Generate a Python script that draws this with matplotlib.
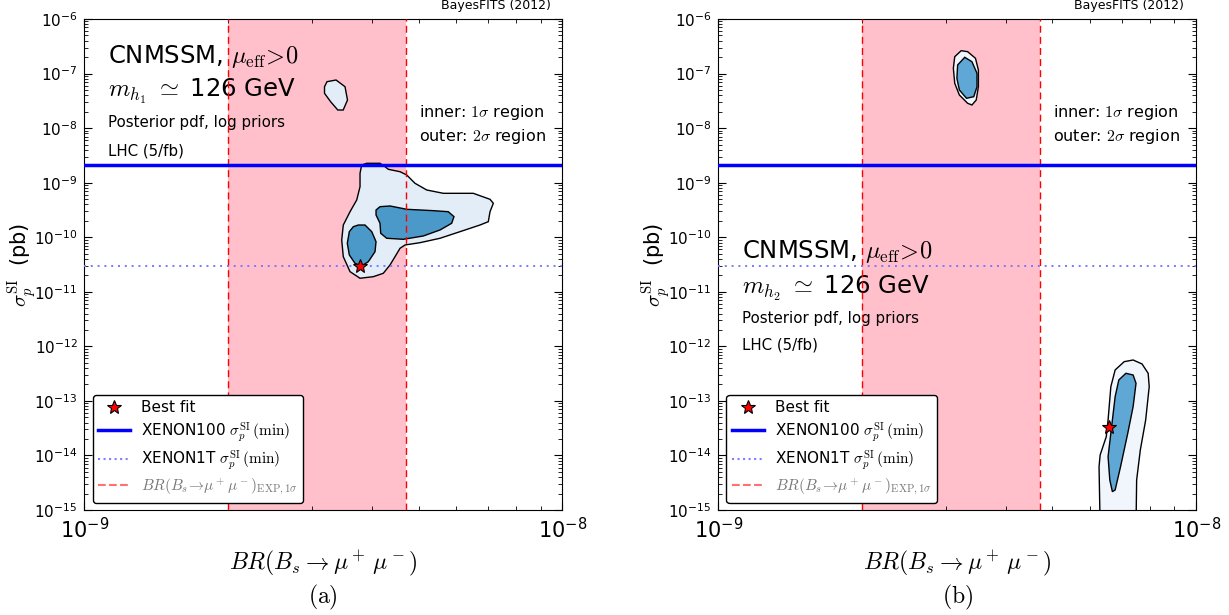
import matplotlib
matplotlib.use("Agg")
import matplotlib.pyplot as plt
from matplotlib.lines import Line2D
from matplotlib.ticker import LogLocator, NullFormatter
import numpy as np

plt.rcParams["mathtext.fontset"] = "cm"
plt.rcParams["font.family"] = "DejaVu Sans"

# experimental 1 sigma range of BR(Bs -> mu mu) and direct detection limits
br_band = [2.0e-9, 4.7e-9]
xenon100_limit = 2.15e-9
xenon1t_limit = 3.0e-11

# best fit points (BR, sigma_p^SI)
best_fit_a = [3.77e-9, 3.0e-11]
best_fit_b = [6.57e-9, 3.3e-14]

# credible region contours as log10(BR), log10(sigma)
# panel (a): 2 sigma, main island
a_outer1_lbr = [-8.4199, -8.4094, -8.3816, -8.3711, -8.3642, -8.3397, -8.3257,
                -8.3084, -8.2839, -8.2491, -8.1864, -8.1514, -8.1445, -8.1514,
                -8.1550, -8.1724, -8.2142, -8.2560, -8.2979, -8.3293, -8.3397,
                -8.3502, -8.3607, -8.3747, -8.3956, -8.4234, -8.4443, -8.4584,
                -8.4617, -8.4584, -8.4443, -8.4303, -8.4234, -8.4234]
a_outer1_lsig = [-8.676, -8.645, -8.645, -8.707, -8.755, -8.799, -8.859,
                 -9.011, -9.134, -9.195, -9.195, -9.305, -9.378, -9.532,
                 -9.715, -9.776, -9.898, -10.019, -10.100, -10.142, -10.203,
                 -10.357, -10.509, -10.661, -10.723, -10.752, -10.631, -10.357,
                 -10.051, -9.776, -9.532, -9.317, -9.074, -8.828]
# panel (a): 2 sigma, small island at large sigma
a_outer2_lbr = [-8.4925, -8.4736, -8.4548, -8.4496, -8.4586, -8.4699, -8.4849,
                -8.4977, -8.4977]
a_outer2_lsig = [-7.149, -7.118, -7.241, -7.485, -7.668, -7.668, -7.516,
                 -7.362, -7.241]
# panel (a): 1 sigma islands
a_inner1_lbr = [-8.4270, -8.4130, -8.3989, -8.3899, -8.3920, -8.4060, -8.4199,
                -8.4339, -8.4458, -8.4500, -8.4458, -8.4374]
a_inner1_lsig = [-9.776, -9.776, -9.898, -10.082, -10.265, -10.448, -10.527,
                 -10.478, -10.325, -10.111, -9.898, -9.807]
a_inner2_lbr = [-8.3816, -8.3607, -8.3257, -8.2701, -8.2387, -8.2268, -8.2316,
                -8.2560, -8.2910, -8.3328, -8.3676, -8.3801, -8.3816, -8.3899,
                -8.3899]
a_inner2_lsig = [-9.440, -9.427, -9.488, -9.513, -9.532, -9.623, -9.744,
                 -9.867, -9.977, -10.038, -10.019, -9.928, -9.744, -9.592,
                 -9.501]

# panel (b): island at large sigma
b_outer1_lbr = [-8.4918, -8.4783, -8.4619, -8.4558, -8.4558, -8.4603, -8.4693,
                -8.4783, -8.4956, -8.5053, -8.5082, -8.5053]
b_outer1_lsig = [-6.581, -6.599, -6.720, -6.935, -7.241, -7.485, -7.576,
                 -7.545, -7.393, -7.178, -6.904, -6.691]
b_inner1_lbr = [-8.4844, -8.4693, -8.4587, -8.4587, -8.4655, -8.4806, -8.4956,
                -8.5008, -8.4992]
b_inner1_lsig = [-6.702, -6.783, -6.995, -7.241, -7.424, -7.453, -7.301,
                 -7.087, -6.843]
# panel (b): island at small sigma (runs below the axis)
b_outer2_lbr = [-8.2010, -8.2033, -8.2010, -8.1882, -8.1844, -8.1786, -8.1696,
                -8.1507, -8.1320, -8.1133, -8.1005, -8.0983, -8.1057, -8.1169,
                -8.1246, -8.1259]
b_outer2_lsig = [-15.3, -14.206, -13.991, -13.656, -13.350, -12.739, -12.433,
                 -12.281, -12.250, -12.323, -12.494, -12.739, -13.350, -13.899,
                 -14.449, -15.3]
b_inner2_lbr = [-8.1619, -8.1471, -8.1320, -8.1259, -8.1320, -8.1432, -8.1583,
                -8.1696, -8.1754, -8.1808, -8.1844, -8.1770, -8.1696]
b_inner2_lsig = [-12.616, -12.494, -12.525, -12.677, -13.106, -13.593, -14.206,
                 -14.632, -14.664, -14.449, -14.022, -13.473, -12.922]

panel_names = ["(a)", "(b)"]
higgs_labels = [r"$m_{h_1}\ \simeq$ 126 GeV", r"$m_{h_2}\ \simeq$ 126 GeV"]


def draw_panel(ax, outers, inners, best, outer_col, inner_col):
    ax.set_xscale("log")
    ax.set_yscale("log")
    ax.axvspan(br_band[0], br_band[1], color="#ffc0cb", lw=0, zorder=0)
    for lbr, lsig in outers:
        ax.fill(10 ** np.array(lbr), 10 ** np.array(lsig), facecolor=outer_col,
                edgecolor="black", lw=1, zorder=2)
    for lbr, lsig in inners:
        ax.fill(10 ** np.array(lbr), 10 ** np.array(lsig), facecolor=inner_col,
                edgecolor="black", lw=1, zorder=3)
    for b in br_band:
        ax.axvline(b, color="red", ls=(0, (5, 3)), lw=1, zorder=4)
    ax.axhline(xenon100_limit, color="blue", lw=2.5, zorder=4)
    ax.axhline(xenon1t_limit, color="#7878ff", ls=(0, (1, 2.5)), lw=1.4, zorder=4)
    ax.plot(best[0], best[1], ls="none", marker="*", ms=10, mfc="red",
            mec="black", mew=0.8, zorder=6, clip_on=False)

    ax.set_xlim(1e-9, 1e-8)
    ax.set_ylim(1e-15, 1e-6)
    ax.xaxis.set_major_locator(LogLocator(base=10, numticks=20))
    ax.xaxis.set_minor_locator(LogLocator(base=10, subs=np.arange(2, 10), numticks=100))
    ax.xaxis.set_minor_formatter(NullFormatter())
    ax.yaxis.set_major_locator(LogLocator(base=10, numticks=20))
    ax.yaxis.set_minor_locator(LogLocator(base=10, subs=np.arange(2, 10), numticks=100))
    ax.yaxis.set_minor_formatter(NullFormatter())
    ax.tick_params(which="both", direction="in", top=True, right=True)
    ax.tick_params(which="major", length=6)
    ax.tick_params(which="minor", length=3)
    ax.tick_params(axis="x", labelsize=15, pad=5)
    ax.tick_params(axis="y", labelsize=11, pad=5)

    ax.set_xlabel(r"$BR(B_s\rightarrow\mu^+\,\mu^-)$", fontsize=17)
    ax.xaxis.set_label_coords(0.5, -0.078)
    ax.set_ylabel(r"$\sigma_p^{\rm SI}$  (pb)", fontsize=15)
    ax.yaxis.set_label_coords(-0.095, 0.5)

    ax.text(0.975, 1.02, "BayesFITS (2012)", transform=ax.transAxes,
            ha="right", va="baseline", fontsize=9)
    ax.text(0.701, 0.801, r"inner: $1\sigma$ region", transform=ax.transAxes,
            ha="left", va="baseline", fontsize=11.5)
    ax.text(0.701, 0.752, r"outer: $2\sigma$ region", transform=ax.transAxes,
            ha="left", va="baseline", fontsize=11.5)

    handles = [
        Line2D([], [], ls="none", marker="*", ms=10, mfc="red", mec="black",
               mew=0.8, label="Best fit"),
        Line2D([], [], color="blue", lw=2.5,
               label=r"XENON100 $\sigma_p^{\rm SI}\,(\rm min)$"),
        Line2D([], [], color="#8080ff", ls=":", lw=1.5,
               label=r"XENON1T $\sigma_p^{\rm SI}\,(\rm min)$"),
        Line2D([], [], color="#ff7070", ls="--", lw=1.5,
               label=r"$BR(B_s\!\rightarrow\!\mu^+\mu^-)_{\rm EXP,1\sigma}$"),
    ]
    leg = ax.legend(handles=handles, loc="lower left",
                    bbox_to_anchor=(0.017, 0.015), borderaxespad=0,
                    fontsize=11, framealpha=1, edgecolor="black",
                    borderpad=0.35, labelspacing=0.3, handlelength=2.1,
                    handletextpad=0.7)
    leg.get_frame().set_linewidth(1)
    leg.get_texts()[3].set_color("#777777")
    leg.set_zorder(10)


fig = plt.figure(figsize=(12.29, 6.15), dpi=100)
ax_a = fig.add_axes([0.0687, 0.1707, 0.3889, 0.7984])
ax_b = fig.add_axes([0.5845, 0.1707, 0.3888, 0.7984])

draw_panel(ax_a,
           [(a_outer1_lbr, a_outer1_lsig), (a_outer2_lbr, a_outer2_lsig)],
           [(a_inner1_lbr, a_inner1_lsig), (a_inner2_lbr, a_inner2_lsig)],
           best_fit_a, "#e2edf8", "#4b99c9")
draw_panel(ax_b,
           [(b_outer1_lbr, b_outer1_lsig), (b_outer2_lbr, b_outer2_lsig)],
           [(b_inner1_lbr, b_inner1_lsig), (b_inner2_lbr, b_inner2_lsig)],
           best_fit_b, "#f0f6fc", "#5fa7d4")

# model / selection text blocks
ax_a.text(0.05, 0.910, r"CNMSSM, $\mu_{\rm eff}\!>\!0$", transform=ax_a.transAxes,
          fontsize=17.5, va="baseline")
ax_a.text(0.05, 0.842, higgs_labels[0], transform=ax_a.transAxes,
          fontsize=17.5, va="baseline")
ax_a.text(0.05, 0.780, "Posterior pdf, log priors", transform=ax_a.transAxes,
          fontsize=10.8, va="baseline")
ax_a.text(0.05, 0.721, "LHC (5/fb)", transform=ax_a.transAxes,
          fontsize=10.8, va="baseline")

ax_b.text(0.049, 0.513, r"CNMSSM, $\mu_{\rm eff}\!>\!0$", transform=ax_b.transAxes,
          fontsize=17.5, va="baseline")
ax_b.text(0.049, 0.441, higgs_labels[1], transform=ax_b.transAxes,
          fontsize=17.5, va="baseline")
ax_b.text(0.049, 0.381, "Posterior pdf, log priors", transform=ax_b.transAxes,
          fontsize=10.8, va="baseline")
ax_b.text(0.049, 0.326, "LHC (5/fb)", transform=ax_b.transAxes,
          fontsize=10.8, va="baseline")

fig.text(0.263, 0.029, r"$(\mathrm{a})$", ha="center", va="center", fontsize=17)
fig.text(0.779, 0.029, r"$(\mathrm{b})$", ha="center", va="center", fontsize=17)

fig.savefig("out.png", dpi=100)
